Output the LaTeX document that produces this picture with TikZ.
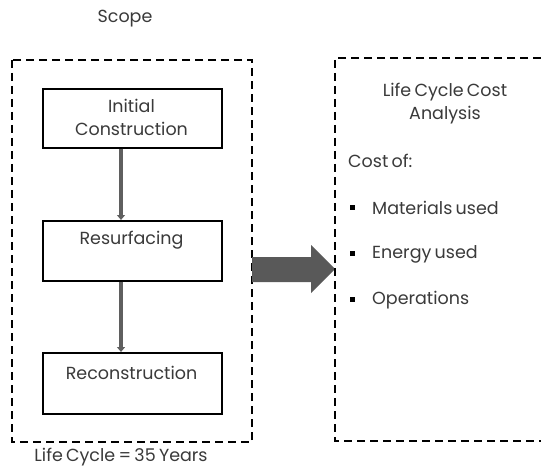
\documentclass[tikz,border=0pt]{standalone}
\usepackage{fontspec}
\setmainfont[WordSpace=0.7]{Poppins}
\usetikzlibrary{arrows.meta}
\definecolor{txt}{HTML}{3A3A3A}
\definecolor{flow}{HTML}{5F5F5F}
\definecolor{bigarrow}{HTML}{595959}
\tikzset{
  dashbox/.style={draw=black, line width=1.3pt, dash pattern=on 8pt off 5pt},
  stage/.style={draw=black, line width=1.6pt, minimum width=179pt, inner sep=0pt, anchor=north west},
  lbl/.style={text=txt, font=\fontsize{17.5}{23}\selectfont, inner sep=0pt},
  flowarrow/.style={draw=flow, line width=3.5pt, -{Triangle[width=8pt,length=5pt]}},
  bullet/.style={fill=black, minimum size=5pt, inner sep=0pt}
}
\begin{document}
\begin{tikzpicture}[x=1pt,y=-1pt]
\useasboundingbox (0,0) rectangle (541,468);
\fill[white] (0,0) rectangle (541,468);

% scope box and its labels
\node[lbl] (scope) at (125,19) {Scope};
\draw[dashbox] (12,60) rectangle (252,442);
\node[lbl] (life) at (121,457) {Life Cycle = 35 Years};

% the three stages
\node[stage, minimum height=59pt] (init) at (42,88) {};
\node[lbl, align=center] (initt) at (131.5,117) {Initial\\Construction};
\node[stage, minimum height=60pt] (resurf) at (42,220) {};
\node[lbl] (resurft) at (131.5,240) {Resurfacing};
\node[stage, minimum height=61pt] (recon) at (42,352) {};
\node[lbl] (recont) at (131.5,373) {Reconstruction};

\coordinate (a1s) at (121,147);
\coordinate (a1e) at (121,220);
\coordinate (a2s) at (121,280);
\coordinate (a2e) at (121,352);
\draw[flowarrow] (init.south -| a1s) -- (resurf.north -| a1e);
\draw[flowarrow] (resurf.south -| a2s) -- (recon.north -| a2e);

% block arrow into the analysis box
\fill[bigarrow] (252,257) -- (311,257) -- (311,245) -- (335,269) -- (311,293) -- (311,282) -- (252,282) -- cycle;

% analysis box (open on the right)
\draw[dashbox] (541,58) -- (335,58) -- (335,441) -- (541,441);
\node[lbl, align=center] (lcca) at (445,104) {Life Cycle Cost\\Analysis};
\node[lbl, anchor=west] (costof) at (348,161) {Cost of:};
\node[bullet] (b1) at (352,207) {};
\node[lbl, anchor=west] (mat) at (372,208) {Materials used};
\node[bullet] (b2) at (352,253) {};
\node[lbl, anchor=west] (en) at (372,254) {Energy used};
\node[bullet] (b3) at (352,299) {};
\node[lbl, anchor=west] (ops) at (372,300) {Operations};
\end{tikzpicture}
\end{document}
